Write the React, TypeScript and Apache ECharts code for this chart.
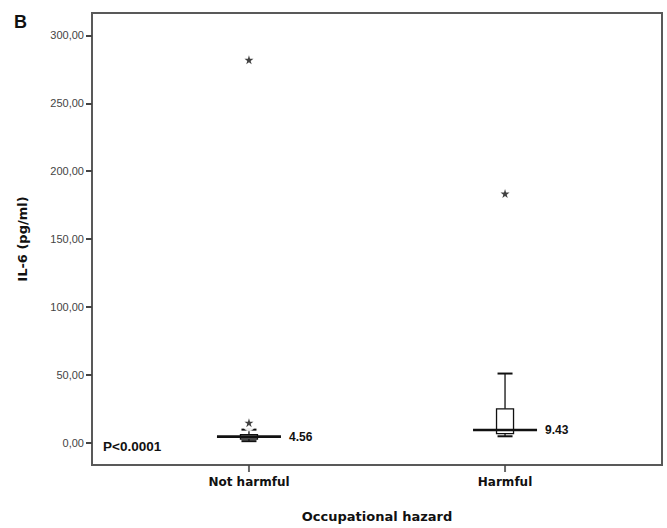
import React, { useEffect, useRef } from "react";
import * as echarts from "echarts";

const categories = ["Not harmful", "Harmful"];
const categoryPositions = [1, 2];
// [min, Q1, median, Q3, max]
const boxStats = [
  [1.2, 2.8, 4.56, 6.0, 9.7],
  [4.8, 6.8, 9.43, 25.0, 51.0],
];
const outliers = [
  [1, 12.5],
  [2, 57.5],
];
const extremes = [
  [1, 14.8],
  [1, 282.0],
  [2, 183.5],
];
const yTicks = [0, 50, 100, 150, 200, 250, 300];
const pValueText = "P<0.0001";
const panelLetter = "B";

const STAR = "path://M50,0 L61,35 L98,35 L68,57 L79,91 L50,70 L21,91 L32,57 L2,35 L39,35 Z";

export default function App() {
  const ref = useRef<HTMLDivElement>(null);
  useEffect(() => {
    document.body.style.margin = "0";
    if (!ref.current) return;
    const chart = echarts.init(ref.current, null, { renderer: "svg" });
    const boxData = categoryPositions.map((x, i) => [x, ...boxStats[i]]);
    const tickData = categoryPositions.map((x) => [x, -16.35]);
    chart.setOption({
      animation: false,
      backgroundColor: "#ffffff",
      grid: {
        left: 92,
        top: 13,
        right: 5,
        bottom: 59,
        show: true,
        borderColor: "#595959",
        borderWidth: 2,
        backgroundColor: "transparent",
      },
      xAxis: {
        type: "value",
        min: 0.387,
        max: 2.613,
        name: "Occupational hazard",
        nameLocation: "middle",
        nameGap: 45,
        nameTextStyle: { fontFamily: "DejaVu Sans", fontWeight: "bold", fontSize: 13, color: "#111" },
        axisLine: { show: true, onZero: false, lineStyle: { color: "#595959", width: 2 } },
        splitLine: { show: false },
        axisTick: { show: false },
        axisLabel: {
          customValues: categoryPositions,
          margin: 11,
          fontFamily: "DejaVu Sans",
          fontWeight: "bold",
          fontSize: 12,
          color: "#111",
          formatter: (v: number) => categories[categoryPositions.indexOf(Math.round(v))] ?? "",
        },
      },
      yAxis: {
        type: "value",
        min: -16.35,
        max: 316.5,
        name: "IL-6 (pg/ml)",
        nameLocation: "middle",
        nameGap: 63,
        nameTextStyle: { fontFamily: "DejaVu Sans", fontWeight: "bold", fontSize: 13, color: "#111" },
        axisLine: { show: true, onZero: false, lineStyle: { color: "#595959", width: 2 } },
        splitLine: { show: false },
        axisTick: {
          show: true,
          customValues: yTicks,
          length: 6,
          lineStyle: { color: "#444", width: 2 },
        },
        axisLabel: {
          customValues: yTicks,
          margin: 8,
          fontFamily: "Liberation Sans",
          fontSize: 11,
          color: "#444",
          formatter: (v: number) => v.toFixed(2).replace(".", ","),
        },
      },
      graphic: [
        {
          type: "text",
          left: 14,
          top: 13,
          style: { text: panelLetter, fontFamily: "Liberation Sans", fontWeight: "bold", fontSize: 18, fill: "#111" },
        },
        {
          type: "text",
          x: 103,
          y: 446,
          style: {
            text: pValueText,
            fontFamily: "Liberation Sans",
            fontWeight: "bold",
            fontSize: 13.5,
            fill: "#111",
            verticalAlign: "middle",
          },
        },
      ],
      series: [
        {
          type: "custom",
          data: boxData,
          encode: { x: 0, y: [1, 2, 3, 4, 5] },
          z: 2,
          renderItem: (params: any, api: any) => {
            const x = api.value(0);
            const p = (v: number) => api.coord([x, v]);
            const [cx, yMin] = p(api.value(1));
            const yQ1 = p(api.value(2))[1];
            const medV = api.value(3);
            const yMed = p(medV)[1];
            const yQ3 = p(api.value(4))[1];
            const yMax = p(api.value(5))[1];
            const boxHalf = 8.5;
            const capHalf = 7.5;
            const medHalf = 32;
            const ls = { stroke: "#111", lineWidth: 1.3 };
            return {
              type: "group",
              children: [
                { type: "line", shape: { x1: cx, y1: yQ3, x2: cx, y2: yMax }, style: ls },
                { type: "line", shape: { x1: cx, y1: yMin, x2: cx, y2: yQ1 }, style: ls },
                { type: "line", shape: { x1: cx - capHalf, y1: yMax, x2: cx + capHalf, y2: yMax }, style: { stroke: "#111", lineWidth: 2 } },
                { type: "line", shape: { x1: cx - capHalf, y1: yMin, x2: cx + capHalf, y2: yMin }, style: { stroke: "#111", lineWidth: 2 } },
                {
                  type: "rect",
                  shape: { x: cx - boxHalf, y: yQ3, width: boxHalf * 2, height: yQ1 - yQ3 },
                  style: { fill: "#ffffff", stroke: "#111", lineWidth: 1.3 },
                },
                { type: "line", shape: { x1: cx - medHalf, y1: yMed, x2: cx + medHalf, y2: yMed }, style: { stroke: "#111", lineWidth: 2.6 } },
                {
                  type: "text",
                  x: cx + medHalf + 8,
                  y: yMed,
                  style: {
                    text: medV.toFixed(2),
                    fontFamily: "Liberation Sans",
                    fontWeight: "bold",
                    fontSize: 12,
                    fill: "#111",
                    verticalAlign: "middle",
                  },
                },
              ],
            };
          },
        },
        {
          type: "scatter",
          data: tickData,
          symbol: "rect",
          symbolSize: [2, 7],
          symbolOffset: [0, 3.5],
          itemStyle: { color: "#444" },
          clip: false,
          silent: true,
          z: 5,
        },
        {
          type: "scatter",
          data: outliers,
          symbol: "emptyCircle",
          symbolSize: 9,
          itemStyle: { color: "#fff", borderColor: "#111", borderWidth: 1.2 },
          z: 3,
        },
        {
          type: "scatter",
          data: extremes,
          symbol: STAR,
          symbolSize: 9,
          itemStyle: { color: "#111" },
          z: 4,
        },
      ],
    });
    return () => chart.dispose();
  }, []);
  return <div ref={ref} style={{ width: 667, height: 528 }} />;
}
